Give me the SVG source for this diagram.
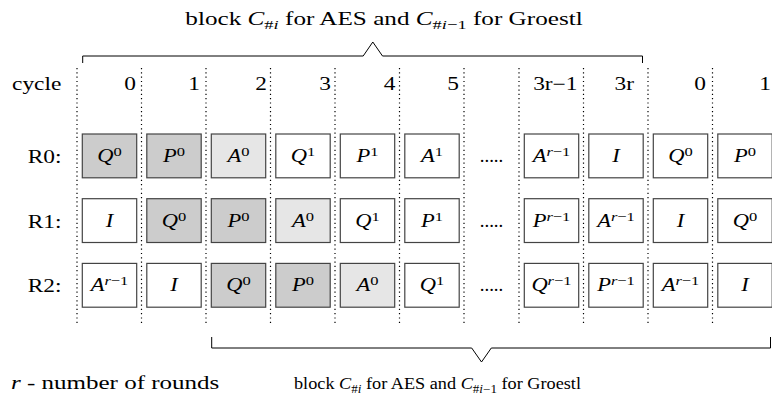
<svg xmlns="http://www.w3.org/2000/svg" width="772" height="398" viewBox="0 0 772 398">
<style>
.t{font-family:"Liberation Serif","Times New Roman",serif;font-size:18px;fill:#000}
.it{font-style:italic}
.sup{font-size:13.2px}
.small{font-size:16px}
.sub{font-size:11.5px}
.box{stroke:#444;stroke-width:1.2;fill:#fff}
.dk{fill:#cccccc}
.lt{fill:#e6e6e6}
.dot{stroke:#000;stroke-width:1.2;stroke-dasharray:1.2 3.1;fill:none}
.br{fill:none;stroke:#000;stroke-width:1}
</style>
<g id="connectors">
<path class="dot" d="M77,68V325M141.5,68V325M206,68V325M270.5,68V325M335,68V325M399.5,68V325M464,68V325M519,68V325M583.5,68V325M648,68V325M712.5,68V325"/>
<path class="br" d="M82.7,63V56H363.2L372.8,42L382.5,56H642.5V63"/>
<path class="br" d="M211.7,337V348H471.7L481.5,362L491.3,348H770.5V337"/>
</g>
<g id="labels">
<text class="t" transform="translate(384,25) scale(1.4,1)" text-anchor="middle">block <tspan class="it">C</tspan><tspan class="sup" dy="4">#</tspan><tspan class="sup it">i</tspan><tspan dy="-4"> for AES and </tspan><tspan class="it">C</tspan><tspan class="sup" dy="4">#</tspan><tspan class="sup it">i</tspan><tspan class="sup">−1</tspan><tspan dy="-4"> for Groestl</tspan></text>
<text class="t" transform="translate(11,389) scale(1.39,1)"><tspan class="it">r</tspan> - number of rounds</text>
<text class="t small" transform="translate(437.5,389) scale(1.14,1)" text-anchor="middle">block <tspan class="it">C</tspan><tspan class="sub" dy="3.5">#</tspan><tspan class="sub it">i</tspan><tspan dy="-3.5"> for AES and </tspan><tspan class="it">C</tspan><tspan class="sub" dy="3.5">#</tspan><tspan class="sub it">i</tspan><tspan class="sub">−1</tspan><tspan dy="-3.5"> for Groestl</tspan></text>
<text class="t" transform="translate(12,90) scale(1.3,1)">cycle</text>
<text class="t" transform="translate(136,90) scale(1.3,1)" text-anchor="end">0</text>
<text class="t" transform="translate(200,90) scale(1.3,1)" text-anchor="end">1</text>
<text class="t" transform="translate(267,90) scale(1.3,1)" text-anchor="end">2</text>
<text class="t" transform="translate(331,90) scale(1.3,1)" text-anchor="end">3</text>
<text class="t" transform="translate(395.5,90) scale(1.3,1)" text-anchor="end">4</text>
<text class="t" transform="translate(459,90) scale(1.3,1)" text-anchor="end">5</text>
<text class="t" transform="translate(577.5,90) scale(1.3,1)" text-anchor="end">3r−1</text>
<text class="t" transform="translate(634,90) scale(1.3,1)" text-anchor="end">3r</text>
<text class="t" transform="translate(706,90) scale(1.3,1)" text-anchor="end">0</text>
<text class="t" transform="translate(771,90) scale(1.3,1)" text-anchor="end">1</text>
<text class="t" transform="translate(61.5,163) scale(1.3,1)" text-anchor="end">R0:</text>
<text class="t" transform="translate(61.5,227.7) scale(1.3,1)" text-anchor="end">R1:</text>
<text class="t" transform="translate(61.5,292.4) scale(1.3,1)" text-anchor="end">R2:</text>
<text class="t" transform="translate(491.5,162) scale(1.05,1)" text-anchor="middle">.....</text>
<text class="t" transform="translate(491.5,226.7) scale(1.05,1)" text-anchor="middle">.....</text>
<text class="t" transform="translate(491.5,291.4) scale(1.05,1)" text-anchor="middle">.....</text>
</g>
<!-- Row R0 -->
<g id="r0c0"><rect class="box dk" x="82.3" y="134" width="54.4" height="43.8"/><text class="t" transform="translate(109.5,162) scale(1.25,1)" text-anchor="middle"><tspan class="it">Q</tspan><tspan class="sup" dy="-6">0</tspan></text></g>
<g id="r0c1"><rect class="box dk" x="146.8" y="134" width="54.4" height="43.8"/><text class="t" transform="translate(174,162) scale(1.25,1)" text-anchor="middle"><tspan class="it">P</tspan><tspan class="sup" dy="-6">0</tspan></text></g>
<g id="r0c2"><rect class="box lt" x="211.3" y="134" width="54.4" height="43.8"/><text class="t" transform="translate(238.5,162) scale(1.25,1)" text-anchor="middle"><tspan class="it">A</tspan><tspan class="sup" dy="-6">0</tspan></text></g>
<g id="r0c3"><rect class="box" x="275.8" y="134" width="54.4" height="43.8"/><text class="t" transform="translate(303,162) scale(1.25,1)" text-anchor="middle"><tspan class="it">Q</tspan><tspan class="sup" dy="-6">1</tspan></text></g>
<g id="r0c4"><rect class="box" x="340.3" y="134" width="54.4" height="43.8"/><text class="t" transform="translate(367.5,162) scale(1.25,1)" text-anchor="middle"><tspan class="it">P</tspan><tspan class="sup" dy="-6">1</tspan></text></g>
<g id="r0c5"><rect class="box" x="404.8" y="134" width="54.4" height="43.8"/><text class="t" transform="translate(432,162) scale(1.25,1)" text-anchor="middle"><tspan class="it">A</tspan><tspan class="sup" dy="-6">1</tspan></text></g>
<g id="r0c6"><rect class="box" x="524.3" y="134" width="54.4" height="43.8"/><text class="t" transform="translate(551.5,162) scale(1.25,1)" text-anchor="middle"><tspan class="it">A</tspan><tspan class="sup it" dy="-6">r</tspan><tspan class="sup">−1</tspan></text></g>
<g id="r0c7"><rect class="box" x="588.8" y="134" width="54.4" height="43.8"/><text class="t it" transform="translate(616,162) scale(1.25,1)" text-anchor="middle">I</text></g>
<g id="r0c8"><rect class="box" x="653.3" y="134" width="54.4" height="43.8"/><text class="t" transform="translate(680.5,162) scale(1.25,1)" text-anchor="middle"><tspan class="it">Q</tspan><tspan class="sup" dy="-6">0</tspan></text></g>
<g id="r0c9"><rect class="box" x="717.8" y="134" width="54.4" height="43.8"/><text class="t" transform="translate(745,162) scale(1.25,1)" text-anchor="middle"><tspan class="it">P</tspan><tspan class="sup" dy="-6">0</tspan></text></g>
<!-- Row R1 -->
<g id="r1c0"><rect class="box" x="82.3" y="198.7" width="54.4" height="43.8"/><text class="t it" transform="translate(109.5,226.7) scale(1.25,1)" text-anchor="middle">I</text></g>
<g id="r1c1"><rect class="box dk" x="146.8" y="198.7" width="54.4" height="43.8"/><text class="t" transform="translate(174,226.7) scale(1.25,1)" text-anchor="middle"><tspan class="it">Q</tspan><tspan class="sup" dy="-6">0</tspan></text></g>
<g id="r1c2"><rect class="box dk" x="211.3" y="198.7" width="54.4" height="43.8"/><text class="t" transform="translate(238.5,226.7) scale(1.25,1)" text-anchor="middle"><tspan class="it">P</tspan><tspan class="sup" dy="-6">0</tspan></text></g>
<g id="r1c3"><rect class="box lt" x="275.8" y="198.7" width="54.4" height="43.8"/><text class="t" transform="translate(303,226.7) scale(1.25,1)" text-anchor="middle"><tspan class="it">A</tspan><tspan class="sup" dy="-6">0</tspan></text></g>
<g id="r1c4"><rect class="box" x="340.3" y="198.7" width="54.4" height="43.8"/><text class="t" transform="translate(367.5,226.7) scale(1.25,1)" text-anchor="middle"><tspan class="it">Q</tspan><tspan class="sup" dy="-6">1</tspan></text></g>
<g id="r1c5"><rect class="box" x="404.8" y="198.7" width="54.4" height="43.8"/><text class="t" transform="translate(432,226.7) scale(1.25,1)" text-anchor="middle"><tspan class="it">P</tspan><tspan class="sup" dy="-6">1</tspan></text></g>
<g id="r1c6"><rect class="box" x="524.3" y="198.7" width="54.4" height="43.8"/><text class="t" transform="translate(551.5,226.7) scale(1.25,1)" text-anchor="middle"><tspan class="it">P</tspan><tspan class="sup it" dy="-6">r</tspan><tspan class="sup">−1</tspan></text></g>
<g id="r1c7"><rect class="box" x="588.8" y="198.7" width="54.4" height="43.8"/><text class="t" transform="translate(616,226.7) scale(1.25,1)" text-anchor="middle"><tspan class="it">A</tspan><tspan class="sup it" dy="-6">r</tspan><tspan class="sup">−1</tspan></text></g>
<g id="r1c8"><rect class="box" x="653.3" y="198.7" width="54.4" height="43.8"/><text class="t it" transform="translate(680.5,226.7) scale(1.25,1)" text-anchor="middle">I</text></g>
<g id="r1c9"><rect class="box" x="717.8" y="198.7" width="54.4" height="43.8"/><text class="t" transform="translate(745,226.7) scale(1.25,1)" text-anchor="middle"><tspan class="it">Q</tspan><tspan class="sup" dy="-6">0</tspan></text></g>
<!-- Row R2 -->
<g id="r2c0"><rect class="box" x="82.3" y="263.4" width="54.4" height="43.8"/><text class="t" transform="translate(109.5,291.4) scale(1.25,1)" text-anchor="middle"><tspan class="it">A</tspan><tspan class="sup it" dy="-6">r</tspan><tspan class="sup">−1</tspan></text></g>
<g id="r2c1"><rect class="box" x="146.8" y="263.4" width="54.4" height="43.8"/><text class="t it" transform="translate(174,291.4) scale(1.25,1)" text-anchor="middle">I</text></g>
<g id="r2c2"><rect class="box dk" x="211.3" y="263.4" width="54.4" height="43.8"/><text class="t" transform="translate(238.5,291.4) scale(1.25,1)" text-anchor="middle"><tspan class="it">Q</tspan><tspan class="sup" dy="-6">0</tspan></text></g>
<g id="r2c3"><rect class="box dk" x="275.8" y="263.4" width="54.4" height="43.8"/><text class="t" transform="translate(303,291.4) scale(1.25,1)" text-anchor="middle"><tspan class="it">P</tspan><tspan class="sup" dy="-6">0</tspan></text></g>
<g id="r2c4"><rect class="box lt" x="340.3" y="263.4" width="54.4" height="43.8"/><text class="t" transform="translate(367.5,291.4) scale(1.25,1)" text-anchor="middle"><tspan class="it">A</tspan><tspan class="sup" dy="-6">0</tspan></text></g>
<g id="r2c5"><rect class="box" x="404.8" y="263.4" width="54.4" height="43.8"/><text class="t" transform="translate(432,291.4) scale(1.25,1)" text-anchor="middle"><tspan class="it">Q</tspan><tspan class="sup" dy="-6">1</tspan></text></g>
<g id="r2c6"><rect class="box" x="524.3" y="263.4" width="54.4" height="43.8"/><text class="t" transform="translate(551.5,291.4) scale(1.25,1)" text-anchor="middle"><tspan class="it">Q</tspan><tspan class="sup it" dy="-6">r</tspan><tspan class="sup">−1</tspan></text></g>
<g id="r2c7"><rect class="box" x="588.8" y="263.4" width="54.4" height="43.8"/><text class="t" transform="translate(616,291.4) scale(1.25,1)" text-anchor="middle"><tspan class="it">P</tspan><tspan class="sup it" dy="-6">r</tspan><tspan class="sup">−1</tspan></text></g>
<g id="r2c8"><rect class="box" x="653.3" y="263.4" width="54.4" height="43.8"/><text class="t" transform="translate(680.5,291.4) scale(1.25,1)" text-anchor="middle"><tspan class="it">A</tspan><tspan class="sup it" dy="-6">r</tspan><tspan class="sup">−1</tspan></text></g>
<g id="r2c9"><rect class="box" x="717.8" y="263.4" width="54.4" height="43.8"/><text class="t it" transform="translate(745,291.4) scale(1.25,1)" text-anchor="middle">I</text></g>
</svg>
